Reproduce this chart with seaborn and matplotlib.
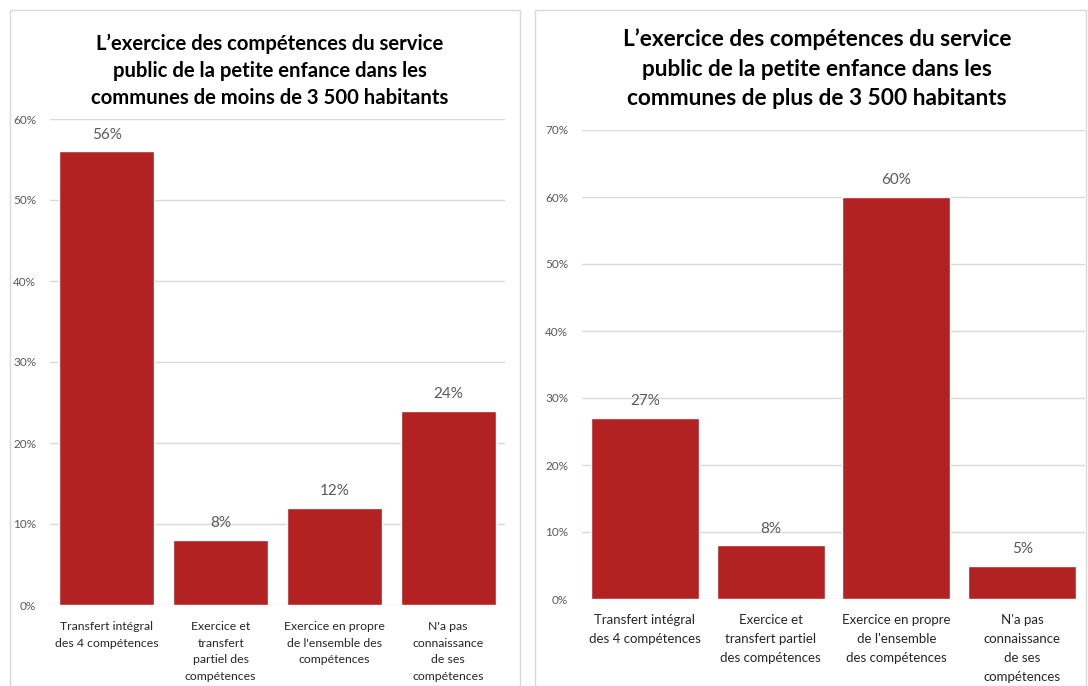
import matplotlib
matplotlib.use("Agg")
import matplotlib.pyplot as plt
import matplotlib.patches as mpatches
import matplotlib.ticker as mticker
import seaborn as sns

categories_left = [
    "Transfert intégral\ndes 4 compétences",
    "Exercice et\ntransfert\npartiel des\ncompétences",
    "Exercice en propre\nde l'ensemble des\ncompétences",
    "N'a pas\nconnaissance\nde ses\ncompétences",
]
values_left = [0.56, 0.08, 0.12, 0.24]

categories_right = [
    "Transfert intégral\ndes 4 compétences",
    "Exercice et\ntransfert partiel\ndes compétences",
    "Exercice en propre\nde l'ensemble\ndes compétences",
    "N'a pas\nconnaissance\nde ses\ncompétences",
]
values_right = [0.27, 0.08, 0.60, 0.05]

title_left = "L’exercice des compétences du service\npublic de la petite enfance dans les\ncommunes de moins de 3 500 habitants"
title_right = "L’exercice des compétences du service\npublic de la petite enfance dans les\ncommunes de plus de 3 500 habitants"

sns.set_style("white")
plt.rcParams['font.family'] = ['Lato', 'DejaVu Sans']

W, H = 1088, 686
fig = plt.figure(figsize=(W / 100, H / 100), dpi=100)
bar_color = "#B22222"


def px_axes(x0, x1, y_top, y_bottom):
    return fig.add_axes([x0 / W, 1 - y_bottom / H, (x1 - x0) / W, (y_bottom - y_top) / H])


# panel frames
for x0, x1 in [(10, 520), (535, 1086)]:
    fig.patches.append(mpatches.Rectangle((x0 / W, 0), (x1 - x0) / W, 1 - 10 / H,
                                          transform=fig.transFigure, fill=False,
                                          edgecolor="#d9d9d9", linewidth=1))


def draw(ax, cats, vals, ymax, width, title, title_y, title_size, title_ls, x_center,
         lab_size, lab_ls, lab_off):
    sns.barplot(x=list(range(len(cats))), y=vals, color=bar_color, saturation=1,
                width=width, ax=ax, zorder=3)
    ax.set_xlim(-0.5, len(cats) - 0.5)
    ax.set_ylim(0, ymax)
    ax.yaxis.set_major_locator(mticker.MultipleLocator(0.1))
    ax.yaxis.set_major_formatter(mticker.PercentFormatter(1.0, decimals=0))
    ax.grid(axis="y", color="#d9d9d9", linewidth=1, zorder=0)
    for s in ax.spines.values():
        s.set_visible(False)
    ax.tick_params(axis="y", length=0, labelsize=8.5, labelcolor="#595959", pad=10)
    ax.set_xticks(range(len(cats)))
    ax.set_xticklabels([""] * len(cats))
    ax.tick_params(axis="x", length=0)
    for i, c in enumerate(cats):
        ax.annotate(c, xy=(i, 0), xycoords="data", xytext=(0, -lab_off), textcoords="offset points",
                    ha="center", va="top", fontsize=lab_size, color="#262626",
                    linespacing=lab_ls, annotation_clip=False)
    ax.bar_label(ax.containers[0], labels=[f"{v * 100:.0f}%" for v in vals],
                 padding=7, fontsize=11, color="#595959")
    ax.set_xlabel("")
    ax.set_ylabel("")
    fig.text(x_center / W, 1 - title_y / H, title, ha="center", va="top",
             fontsize=title_size, fontweight="bold", color="black", linespacing=title_ls)


ax1 = px_axes(50, 505, 119, 605)
draw(ax1, categories_left, values_left, 0.6, 0.835, title_left, 34, 14.6, 1.42, 270,
     8.8, 1.62, 11.5)

ax2 = px_axes(582, 1085, 130, 599)
draw(ax2, categories_right, values_right, 0.7, 0.86, title_right, 28, 16.3, 1.52, 817,
     9.5, 1.72, 10.5)

fig.savefig("out.png", dpi=100)
